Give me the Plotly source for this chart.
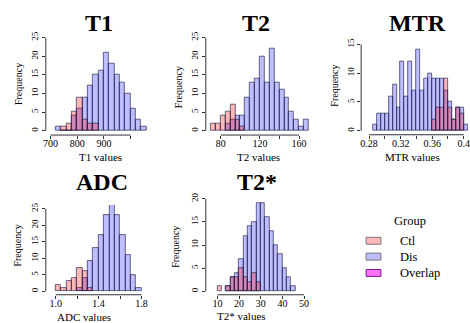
import plotly.graph_objects as go

# ---------------- data ----------------
T1_bins = [720, 740, 760, 780, 800, 820, 840, 860, 880, 900, 920, 940, 960, 980, 1000, 1020, 1040]
T1_dis = [1, 0, 0, 4, 6, 9, 12, 15, 16, 21, 18, 15, 13, 10, 6, 3, 1]
T1_ctl_bins = [740, 760, 780, 800, 820, 840, 860]
T1_ctl = [1, 2, 5, 9, 3, 2, 2]
T1_width = 20

T2_bins = [85, 90, 95, 100, 105, 110, 115, 120, 125, 130, 135, 140, 145, 150, 155, 160, 165]
T2_dis = [2, 3, 4, 4, 9, 13, 14, 20, 13, 22, 13, 11, 9, 5, 3, 1, 3]
T2_ctl_bins = [70, 75, 80, 85, 90, 95, 100]
T2_ctl = [2, 2, 4, 5, 7, 3, 1]
T2_width = 5

MTR_bins = [0.285, 0.29, 0.295, 0.30, 0.305, 0.31, 0.315, 0.32, 0.325, 0.33, 0.335, 0.34,
            0.345, 0.35, 0.355, 0.36, 0.365, 0.37, 0.375, 0.38, 0.385, 0.39, 0.395, 0.40]
MTR_dis = [1, 3, 3, 3, 6, 8, 4, 12, 6, 12, 7, 14, 7, 9, 10, 9, 9, 9, 7, 5, 2, 4, 4, 1]
MTR_ctl_bins = [0.36, 0.365, 0.37, 0.375, 0.38, 0.385, 0.39, 0.395]
MTR_ctl = [2, 4, 4, 9, 4, 2, 4, 3]
MTR_width = 0.005

ADC_bins = [1.20, 1.25, 1.30, 1.35, 1.40, 1.45, 1.50, 1.55, 1.60, 1.65, 1.70, 1.75]
ADC_dis = [1, 4, 9, 13, 17, 23, 26, 23, 17, 11, 5, 1]
ADC_ctl_bins = [1.00, 1.05, 1.10, 1.15, 1.20, 1.25, 1.30]
ADC_ctl = [2, 1, 3, 4, 7, 6, 1]
ADC_width = 0.05

T2S_bins = [14, 16, 18, 20, 22, 24, 26, 28, 30, 32, 34, 36, 38, 40, 42, 44]
T2S_dis = [1, 3, 4, 7, 12, 14, 15, 19, 19, 16, 13, 10, 8, 5, 3, 1]
T2S_ctl_bins = [10, 14, 16, 18, 20, 22, 24, 26, 28]
T2S_ctl = [1, 1, 3, 3, 5, 3, 2, 4, 2]
T2S_width = 2

T1_xticks = [700, 800, 900, 1000]
T1_xlabels = ["700", "800", "900", ""]
T2_xticks = [80, 100, 120, 140, 160]
T2_xlabels = ["80", "", "120", "", "160"]
MTR_xticks = [0.28, 0.30, 0.32, 0.34, 0.36, 0.38, 0.40]
MTR_xlabels = ["0.28", "", "0.32", "", "0.36", "", "0.4"]
ADC_xticks = [1.0, 1.2, 1.4, 1.6, 1.8]
ADC_xlabels = ["1.0", "", "1.4", "", "1.8"]
T2S_xticks = [10, 20, 30, 40, 50]
T2S_xlabels = ["10", "20", "30", "40", "50"]
Y25_ticks = [0, 5, 10, 15, 20, 25]
Y20_ticks = [0, 5, 10, 15, 20]
Y15_ticks = [0, 5, 10, 15]

titles = ["T1", "T2", "MTR", "ADC", "T2*"]
xlabels = ["T1 values", "T2 values", "MTR values", "ADC values", "T2* values"]
groups = ["Ctl", "Dis", "Overlap"]

# ---------------- styling / layout ----------------
W, H = 470, 323
SERIF = "Liberation Serif, Times New Roman, serif"
DIS_COL = "rgba(0,0,255,0.26)"
CTL_COL = "rgba(255,0,0,0.28)"
OVL_COL = "rgba(255,0,255,0.55)"
EDGE = "rgba(30,30,70,0.65)"
AX = "#333333"

panels = [
    dict(bins=T1_bins, dis=T1_dis, cb=T1_ctl_bins, ctl=T1_ctl, w=T1_width,
         xc=(700, 48, 1000, 129), yc=(0, 129, 25, 35), box=(43.3, 149, 133.3, 31),
         xt=T1_xticks, xl=T1_xlabels, yt=Y25_ticks,
         title=(97, 20), ylab=(15, 82), xlab=(99, 155)),
    dict(bins=T2_bins, dis=T2_dis, cb=T2_ctl_bins, ctl=T2_ctl, w=T2_width,
         xc=(80, 220, 160, 299.3), yc=(0, 129, 25, 35), box=(205, 313, 133.3, 31),
         xt=T2_xticks, xl=T2_xlabels, yt=Y25_ticks,
         title=(256, 20), ylab=(177, 85), xlab=(258, 155)),
    dict(bins=MTR_bins, dis=MTR_dis, cb=MTR_ctl_bins, ctl=MTR_ctl, w=MTR_width,
         xc=(0.28, 370, 0.40, 465.7), yc=(0, 129, 15, 41.7), box=(362, 470, 133, 38),
         xt=MTR_xticks, xl=MTR_xlabels, yt=Y15_ticks,
         title=(419, 20), ylab=(335, 83), xlab=(414, 155)),
    dict(bins=ADC_bins, dis=ADC_dis, cb=ADC_ctl_bins, ctl=ADC_ctl, w=ADC_width,
         xc=(1.0, 53.3, 1.8, 140), yc=(0, 291, 25, 207.7), box=(43.3, 150, 294.5, 204),
         xt=ADC_xticks, xl=ADC_xlabels, yt=Y25_ticks,
         title=(100, 181), ylab=(15, 245), xlab=(82, 317)),
    dict(bins=T2S_bins, dis=T2S_dis, cb=T2S_ctl_bins, ctl=T2S_ctl, w=T2S_width,
         xc=(10, 216.7, 50, 304.3), yc=(0, 291, 20, 197.7), box=(205, 312, 294.5, 194),
         xt=T2S_xticks, xl=T2S_xlabels, yt=Y20_ticks,
         title=(257, 181), ylab=(175, 246), xlab=(241, 316)),
]


def px_range(v0, p0, v1, p1, pa, pb):
    s = (p1 - p0) / (v1 - v0)
    return [v0 + (pa - p0) / s, v0 + (pb - p0) / s]


fig = go.Figure()
layout = dict(width=W, height=H, margin=dict(l=0, r=0, t=0, b=0),
              paper_bgcolor="white", plot_bgcolor="rgba(0,0,0,0)",
              barmode="overlay", showlegend=False, bargap=0)
shapes, annotations = [], []

for i, p in enumerate(panels):
    k = "" if i == 0 else str(i + 1)
    xa, ya = "x" + k, "y" + k
    left, right, bottom, top = p["box"]
    xr = px_range(*p["xc"], left, right)
    yr = px_range(*p["yc"], bottom, top)
    layout["xaxis" + k] = dict(domain=[left / W, right / W], range=xr, anchor=ya,
                               showgrid=False, zeroline=False, showline=False,
                               ticks="outside", ticklen=3, tickwidth=1, tickcolor=AX,
                               tickvals=p["xt"], ticktext=p["xl"], ticklabelstandoff=-4,
                               ticklabeloverflow="allow",
                               tickfont=dict(family=SERIF, size=10, color="black"))
    layout["yaxis" + k] = dict(domain=[1 - bottom / H, 1 - top / H], range=yr, anchor=xa,
                               showgrid=False, zeroline=False, showline=False,
                               ticks="outside", ticklen=3, tickwidth=1, tickcolor=AX,
                               tickvals=p["yt"], ticktext=[str(v) for v in p["yt"]],
                               tickangle=-90, tickfont=dict(family=SERIF, size=9, color="black"))
    shapes.append(dict(type="line", xref=xa, yref=ya + " domain", x0=p["xt"][0], x1=p["xt"][-1],
                       y0=0, y1=0, line=dict(color=AX, width=1)))
    shapes.append(dict(type="line", xref=xa + " domain", yref=ya, x0=0, x1=0,
                       y0=p["yt"][0], y1=p["yt"][-1], line=dict(color=AX, width=1)))
    for bins, counts, col in ((p["bins"], p["dis"], DIS_COL), (p["cb"], p["ctl"], CTL_COL)):
        fig.add_trace(go.Bar(x=[b + p["w"] / 2 for b in bins], y=counts,
                             width=[p["w"]] * len(bins), xaxis=xa, yaxis=ya,
                             marker=dict(color=col, line=dict(color=EDGE, width=1)),
                             hoverinfo="skip"))
    tx, ty = p["title"]
    annotations.append(dict(text="<b>%s</b>" % titles[i], x=tx / W, y=1 - ty / H, xref="paper",
                            yref="paper", showarrow=False, xanchor="center", yanchor="middle",
                            font=dict(family=SERIF, size=24, color="black")))
    lx, ly = p["ylab"]
    annotations.append(dict(text="Frequency", x=lx / W, y=1 - ly / H, xref="paper", yref="paper",
                            showarrow=False, textangle=-90, xanchor="center", yanchor="middle",
                            font=dict(family=SERIF, size=10, color="black")))
    bx, by = p["xlab"]
    annotations.append(dict(text=xlabels[i], x=bx / W, y=1 - by / H, xref="paper", yref="paper",
                            showarrow=False, xanchor="center", yanchor="middle",
                            font=dict(family=SERIF, size=11, color="black")))

annotations.append(dict(text="Group", x=411 / W, y=1 - 220 / H, xref="paper", yref="paper",
                        showarrow=False, xanchor="center", yanchor="middle",
                        font=dict(family=SERIF, size=12.5, color="black")))
leg_cols = [CTL_COL, DIS_COL, OVL_COL]
leg_edges = ["#777777", "#777777", "#7a1a8a"]
leg_y = [240, 256, 272.5]
for g, c, e, yy in zip(groups, leg_cols, leg_edges, leg_y):
    shapes.append(dict(type="rect", xref="paper", yref="paper", x0=367 / W, x1=382 / W,
                       y0=1 - (yy + 3.5) / H, y1=1 - (yy - 3.5) / H,
                       fillcolor=c, line=dict(color=e, width=1)))
    annotations.append(dict(text=g, x=399 / W, y=1 - yy / H, xref="paper", yref="paper",
                            showarrow=False, xanchor="left", yanchor="middle",
                            font=dict(family=SERIF, size=12.5, color="black")))

layout["shapes"] = shapes
layout["annotations"] = annotations
fig.update_layout(**layout)
fig.write_html("out.html", config={"displayModeBar": False},
               post_script="document.body.style.margin='0';document.body.style.overflow='hidden';")
